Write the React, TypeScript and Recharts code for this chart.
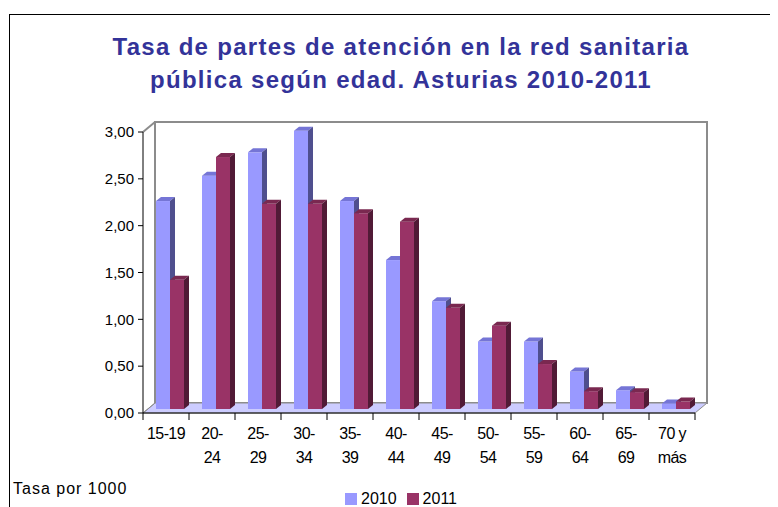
import React from 'react';
import { BarChart, Bar, XAxis, YAxis, ReferenceArea, Legend } from 'recharts';

const categories = ['15-19', '20-\n24', '25-\n29', '30-\n34', '35-\n39', '40-\n44', '45-\n49', '50-\n54', '55-\n59', '60-\n64', '65-\n69', '70 y\nmás'];
const values2010 = [2.22, 2.49, 2.74, 2.97, 2.22, 1.59, 1.15, 0.72, 0.72, 0.40, 0.20, 0.06];
const values2011 = [1.38, 2.69, 2.19, 2.19, 2.09, 2.00, 1.08, 0.89, 0.48, 0.19, 0.18, 0.08];
const yTicks = [0, 0.5, 1, 1.5, 2, 2.5, 3];
const titleLines = ['Tasa de partes de atención en la red sanitaria', 'pública según edad. Asturias 2010-2011'];
const footnote = 'Tasa por 1000';

const data = categories.map((c, i) => ({ label: c, v2010: values2010[i], v2011: values2011[i] }));

const FONT = '"Liberation Sans", Arial, sans-serif';

const WALL_DX = 12;
const WALL_DY = 10;
const BAR_SHIFT_X = 4;
const BAR_SHIFT_Y = 4;
const BAR_DX = 5;
const BAR_DY = 4;

const makeBar3D = (front: string, top: string, side: string) => (props: any) => {
  const { x, y, width, height } = props;
  if (x == null || y == null || !width) return null;
  const h = Math.max(0, height);
  const sx = x + BAR_SHIFT_X;
  const sy = y - BAR_SHIFT_Y;
  const w = width;
  return (
    <g>
      <rect x={sx} y={sy} width={w} height={h} fill={front} />
      <polygon
        points={`${sx},${sy} ${sx + BAR_DX},${sy - BAR_DY} ${sx + w + BAR_DX},${sy - BAR_DY} ${sx + w},${sy}`}
        fill={top}
      />
      <polygon
        points={`${sx + w},${sy} ${sx + w + BAR_DX},${sy - BAR_DY} ${sx + w + BAR_DX},${sy + h - BAR_DY} ${sx + w},${sy + h}`}
        fill={side}
      />
    </g>
  );
};

const Walls = (props: any) => {
  const { x, y, width, height } = props;
  if (x == null) return null;
  const bx = x + WALL_DX;
  const by = y - WALL_DY;
  const bottom = y + height;
  return (
    <g>
      <rect x={bx} y={by} width={width} height={height} fill="#ffffff" stroke="#8c8c8c" strokeWidth={2} />
      <polygon
        points={`${x},${bottom} ${x + width},${bottom} ${x + width + WALL_DX},${bottom - WALL_DY} ${bx},${bottom - WALL_DY}`}
        fill="#ccccff"
        stroke="#8c8c8c"
        strokeWidth={1}
      />
      <line x1={x} y1={y} x2={bx} y2={by} stroke="#8c8c8c" strokeWidth={2} />
      <line x1={x} y1={bottom} x2={bx} y2={bottom - WALL_DY} stroke="#8c8c8c" strokeWidth={1} />
    </g>
  );
};

const XTick = (props: any) => {
  const { x, y, payload, index, width, visibleTicksCount } = props;
  const half = payload && payload.offset ? payload.offset : (width && visibleTicksCount ? width / visibleTicksCount / 2 : 23);
  const lines = String(payload.value).split('\n');
  const isLast = index === (visibleTicksCount ? visibleTicksCount - 1 : categories.length - 1);
  return (
    <g>
      <line x1={x - half} y1={y} x2={x - half} y2={y + 7} stroke="#000" strokeWidth={1} />
      {isLast && <line x1={x + half} y1={y} x2={x + half} y2={y + 7} stroke="#000" strokeWidth={1} />}
      {lines.map((t, i) => (
        <text
          key={i}
          x={x}
          y={y + 26 + i * 24}
          textAnchor="middle"
          fontFamily={FONT}
          fontSize={16}
          letterSpacing={-0.6}
          fill="#000"
        >
          {t}
        </text>
      ))}
    </g>
  );
};

const LegendContent = (props: any) => {
  const { payload } = props;
  return (
    <div style={{ display: 'flex', alignItems: 'center', fontFamily: FONT, fontSize: 16, color: '#000' }}>
      {(payload || []).map((p: any, i: number) => (
        <div key={i} style={{ display: 'flex', alignItems: 'center', marginLeft: i === 0 ? 0 : 10 }}>
          <span style={{ display: 'inline-block', width: 12, height: 12, background: p.color }} />
          <span style={{ marginLeft: 4, lineHeight: '16px' }}>{p.value}</span>
        </div>
      ))}
    </div>
  );
};

export default function App() {
  return (
    <div style={{ position: 'relative', width: 770, height: 499, overflow: 'hidden', background: '#fff' }}>
      <div
        style={{
          position: 'absolute',
          left: 1,
          top: 6,
          width: 900,
          height: 700,
          border: '1px solid #000',
          boxSizing: 'border-box',
        }}
      />
      <div
        style={{
          position: 'absolute',
          left: 0,
          top: 22,
          width: 786,
          textAlign: 'center',
          fontFamily: FONT,
          fontWeight: 'bold',
          fontSize: 24,
          lineHeight: '33px',
          letterSpacing: 1.3,
          color: '#333399',
        }}
      >
        {titleLines.map((t, i) => (
          <div key={i}>{t}</div>
        ))}
      </div>
      <BarChart
        width={770}
        height={499}
        data={data}
        margin={{ top: 124, right: 83, bottom: 34, left: 75 }}
        barGap={0}
        barCategoryGap={9}
      >
        <ReferenceArea y1={0} y2={3} shape={<Walls />} ifOverflow="visible" />
        <XAxis
          dataKey="label"
          interval={0}
          tickLine={false}
          tickSize={0}
          tickMargin={0}
          height={60}
          axisLine={{ stroke: '#000', strokeWidth: 1 }}
          tick={<XTick />}
        />
        <YAxis
          domain={[0, 3]}
          ticks={yTicks}
          width={60}
          tickSize={5}
          tickMargin={4}
          interval={0}
          axisLine={{ stroke: '#000', strokeWidth: 1 }}
          tickLine={{ stroke: '#000', strokeWidth: 1 }}
          tick={{ fontFamily: FONT, fontSize: 15, fill: '#000' }}
          tickFormatter={(v: number) => v.toFixed(2).replace('.', ',')}
        />
        <Bar
          dataKey="v2010"
          name="2010"
          fill="#9999ff"
          barSize={14}
          isAnimationActive={false}
          shape={makeBar3D('#9999ff', '#7575d6', '#4f4f8e')}
        />
        <Bar
          dataKey="v2011"
          name="2011"
          fill="#993366"
          barSize={14}
          isAnimationActive={false}
          shape={makeBar3D('#993366', '#7a2850', '#511a36')}
        />
        <Legend
          layout="horizontal"
          verticalAlign="middle"
          align="center"
          content={<LegendContent />}
          wrapperStyle={{ position: 'absolute', left: 337, top: 483, width: 'auto', height: 'auto' }}
        />
      </BarChart>
      <div
        style={{
          position: 'absolute',
          left: 5,
          top: 473,
          fontFamily: FONT,
          fontSize: 16,
          lineHeight: '16px',
          letterSpacing: 1,
          color: '#000',
          whiteSpace: 'nowrap',
        }}
      >
        {footnote}
      </div>
    </div>
  );
}
